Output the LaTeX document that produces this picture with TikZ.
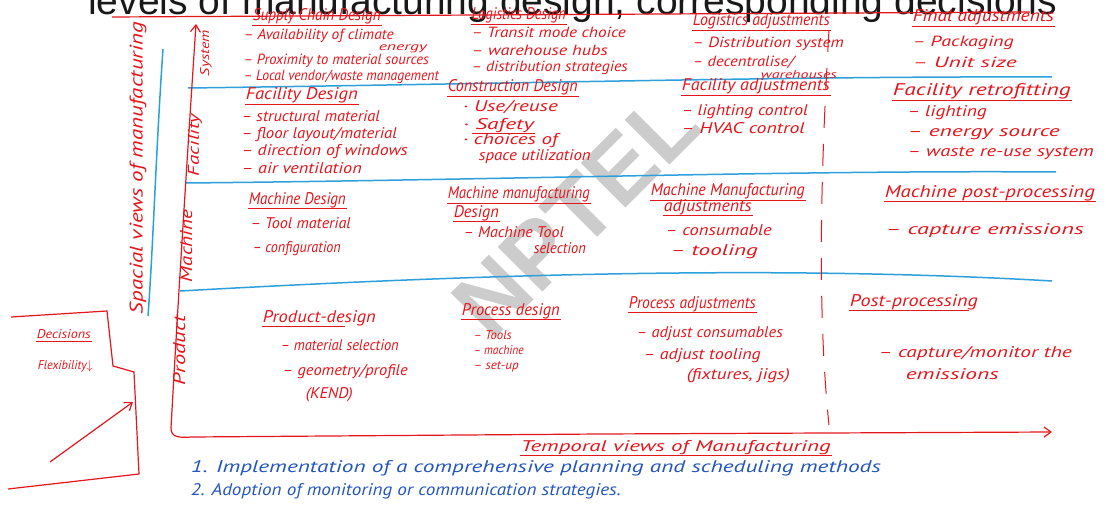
\documentclass[tikz,border=0pt]{standalone}
\usepackage{fontspec}
\usepackage{graphicx}
\setmainfont{Liberation Sans}
\newfontfamily\handf{PT Sans}
\usetikzlibrary{arrows.meta}
\definecolor{hred}{RGB}{228,22,28}
\definecolor{hblue}{RGB}{45,160,220}
\definecolor{tblue}{RGB}{35,85,190}
\newcommand\hw[3]{\resizebox{#1pt}{#2pt}{\handf\itshape\vphantom{Ag}#3}}
\newcommand\itm[5]{\node[itm] (#1) at (#2,#3) {\hw{#4}{11}{#5}};}
\newcommand\itr[5]{\node[itm] (#1) at (#2,#3) {\hw{#4}{10.5}{#5}};}
\newcommand\smi[5]{\node[itm] (#1) at (#2,#3) {\hw{#4}{9}{#5}};}
\newcommand\hdr[5]{\node[itm] (#1) at (#2,#3) {\hw{#4}{12}{#5}};
  \draw[ul] (#1.south west) -- (#1.south east);}
\tikzset{
  itm/.style={anchor=base west, inner sep=0.6pt, text=hred},
  ul/.style={draw=hred, line width=0.9pt},
  rl/.style={draw=hred, line width=1.2pt},
  sep/.style={draw=hblue, line width=1.5pt},
  lab/.style={anchor=center, rotate=90, inner sep=0pt, text=hred},
  tipb/.style={-{Straight Barb[length=7pt,width=10pt]}},
  btxt/.style={anchor=base west, inner sep=0.6pt, text=tblue}
}
\begin{document}
\begin{tikzpicture}[x=1pt,y=-1pt]
\useasboundingbox (0,0) rectangle (1106,508);
\clip (0,0) rectangle (1106,508);
\fill[white] (0,0) rectangle (1106,508);

% watermark
\node[rotate=45, text=black!20, font=\bfseries\fontsize{92}{92}\selectfont, inner sep=0pt] (wm) at (576,214) {NPTEL};

% title (cut off at the top)
\node[anchor=base west, inner sep=0pt, text=black!90, font=\fontsize{39}{40}\selectfont] (title) at (88,15) {levels of manufacturing design, corresponding decisions};
\coordinate (tlA) at (112,17);
\coordinate (tlB) at (1030,12);
\draw[rl] (tlA) -- (tlB);

% blue row separators
\coordinate (s1a) at (188,88);  \coordinate (s1b) at (1052,77);
\coordinate (s2a) at (186,183); \coordinate (s2b) at (1056,172);
\coordinate (s3a) at (180,291); \coordinate (s3b) at (1052,281);
\draw[sep] (s1a) .. controls (500,84) and (800,76) .. (s1b);
\draw[sep] (s2a) .. controls (500,180) and (800,170) .. (s2b);
\draw[sep] (s3a) .. controls (450,276) and (760,264) .. (s3b);

% blue vertical line
\coordinate (bvA) at (163,49);
\coordinate (bvB) at (148,316);
\draw[sep] (bvA) .. controls (156,150) and (153,250) .. (bvB);

% red axes
\coordinate (axTop) at (196,24);
\coordinate (axCorner) at (171,428);
\coordinate (axRight) at (1052,432);
\draw[rl, tipb] (axCorner) .. controls (178,300) and (189,130) .. (axTop);
\draw[rl, tipb] (axCorner) .. controls (171,437) and (178,438) .. (192,437) -- (600,434) -- (axRight);

% dashed divider
\coordinate (dvA) at (829,30);
\coordinate (dvB) at (829,425);
\draw[draw=hred, line width=1pt, dash pattern=on 22pt off 16pt] (dvA) .. controls (822,150) and (816,300) .. (dvB);

% axis labels
\node[lab] (lspace) at (138,168) {\hw{292}{13}{Spacial views of manufacturing}};
\node[lab] (lsys) at (206,53) {\hw{46}{9}{System}};
\node[lab] (lfac) at (195,145) {\hw{62}{11}{Facility}};
\node[lab] (lmac) at (188,246) {\hw{72}{12}{Machine}};
\node[lab] (lpro) at (181,350) {\hw{70}{12}{Product}};

% ---------- Row 1 : System ----------
\hdr{h11}{252}{21}{128}{Supply Chain Design}
\itr{a1}{243}{40}{150}{– Availability of climate}
\node[itm] (a2) at (378,51) {\hw{48}{8}{energy}};
\itr{a3}{243}{65}{185}{– Proximity to material sources}
\itr{a4}{243}{81}{195}{– Local vendor/waste management}

\hdr{h12}{471}{20}{94}{Logistics Design}
\itr{b1}{471}{38}{154}{– Transit mode choice}
\itr{b2}{471}{56}{136}{– warehouse hubs}
\itr{b3}{471}{72}{156}{– distribution strategies}

\hdr{h13}{692}{26}{137}{Logistics adjustments}
\itr{c1}{692}{48}{151}{– Distribution system}
\itr{c2}{692}{67}{101}{– decentralise/}
\node[itm] (c3) at (760,79) {\hw{76}{8}{warehouses}};

\hdr{h14}{912}{22}{141}{Final adjustments}
\itr{d1}{912}{47}{101}{– Packaging}
\itr{d2}{912}{68}{104}{– Unit size}

% ---------- Row 2 : Facility ----------
\hdr{h21}{245}{100}{112}{Facility Design}
\itm{e1}{241}{122}{138}{– structural material}
\itm{e2}{241}{139}{155}{– floor layout/material}
\itm{e3}{241}{156}{166}{– direction of windows}
\itm{e4}{241}{174}{120}{– air ventilation}

\hdr{h22}{447}{92}{130}{Construction Design}
\itm{f1}{462}{112}{95}{· Use/reuse}
\itm{f2}{462}{129}{71}{· Safety}
\draw[ul] ([xshift=10pt]f2.south west) -- (f2.south east);
\itm{f3}{462}{145}{95}{· choices of}
\itm{f4}{478}{161}{112}{space utilization}

\hdr{h23}{681}{91}{148}{Facility adjustments}
\itm{g1}{681}{116}{126}{– lighting control}
\itm{g2}{681}{134}{123}{– HVAC control}

\hdr{h24}{892}{96}{178}{Facility retrofitting}
\itm{k1}{907}{117}{79}{– lighting}
\itm{k2}{907}{137}{152}{– energy source}
\itm{k3}{907}{157}{186}{– waste re-use system}

% ---------- Row 3 : Machine ----------
\hdr{h31}{248}{204}{97}{Machine Design}
\itm{m1}{250}{228}{100}{– Tool material}
\itm{m2}{252}{252}{88}{– configuration}

\hdr{h32a}{447}{199}{142}{Machine manufacturing}
\hdr{h32b}{453}{217}{45}{Design}
\itm{n1}{463}{237}{100}{– Machine Tool}
\itm{n2}{533}{253}{52}{selection}

\hdr{h33a}{650}{196}{154}{Machine Manufacturing}
\hdr{h33b}{663}{211}{88}{adjustments}
\itm{o1}{665}{235}{106}{– consumable}
\itm{o2}{670}{255}{87}{– tooling}

\hdr{h34}{884}{197}{210}{Machine post-processing}
\itm{p1}{885}{234}{198}{– capture emissions}

% ---------- Row 4 : Product ----------
\node[itm] (h41) at (262,322) {\hw{113}{12}{Product-design}};
\draw[ul] (h41.south west) -- ([xshift=-32pt]h41.south east);
\itm{q1}{280}{350}{118}{– material selection}
\itm{q2}{282}{375}{125}{– geometry/profile}
\itm{q3}{305}{398}{47}{(KEND)}

\hdr{h42}{461}{315}{98}{Process design}
\smi{r1}{473}{339}{38}{– Tools}
\smi{r2}{473}{354}{50}{– machine}
\smi{r3}{473}{369}{45}{– set-up}

\hdr{h43}{628}{308}{127}{Process adjustments}
\itm{t1}{636}{337}{146}{– adjust consumables}
\itm{t2}{643}{359}{117}{– adjust tooling}
\itm{t3}{686}{379}{103}{(fixtures, jigs)}

\node[itm] (h44) at (849,306) {\hw{128}{12}{Post-processing}};
\draw[ul] (h44.south west) -- ([xshift=-10pt]h44.south east);
\itm{u1}{878}{357}{193}{– capture/monitor the}
\itm{u2}{905}{379}{93}{emissions}

% ---------- Decisions box ----------
\draw[rl] (11,317) -- (107,311) -- (113,366) -- (134,372) -- (139,474) -- (8,489);
\node[itm] (dec) at (36,338) {\hw{54}{9}{Decisions}};
\draw[ul] (dec.south west) -- (dec.south east);
\node[itm] (flex) at (37,369) {\hw{55}{9}{Flexibility\ensuremath{\downarrow}}};
\coordinate (arS) at (50,462);
\coordinate (arE) at (133,402);
\draw[rl, tipb] (arS) -- (arE);

% ---------- Temporal views ----------
\node[itm] (temp) at (520,451) {\hw{310}{11}{Temporal views of Manufacturing}};
\draw[ul] (temp.south west) -- (temp.south east);
\node[btxt] (bt1) at (190,472) {\hw{690}{12}{1. Implementation of a comprehensive planning and scheduling methods}};
\node[btxt] (bt2) at (190,495) {\hw{430}{12}{2. Adoption of monitoring or communication strategies.}};
\end{tikzpicture}
\end{document}
